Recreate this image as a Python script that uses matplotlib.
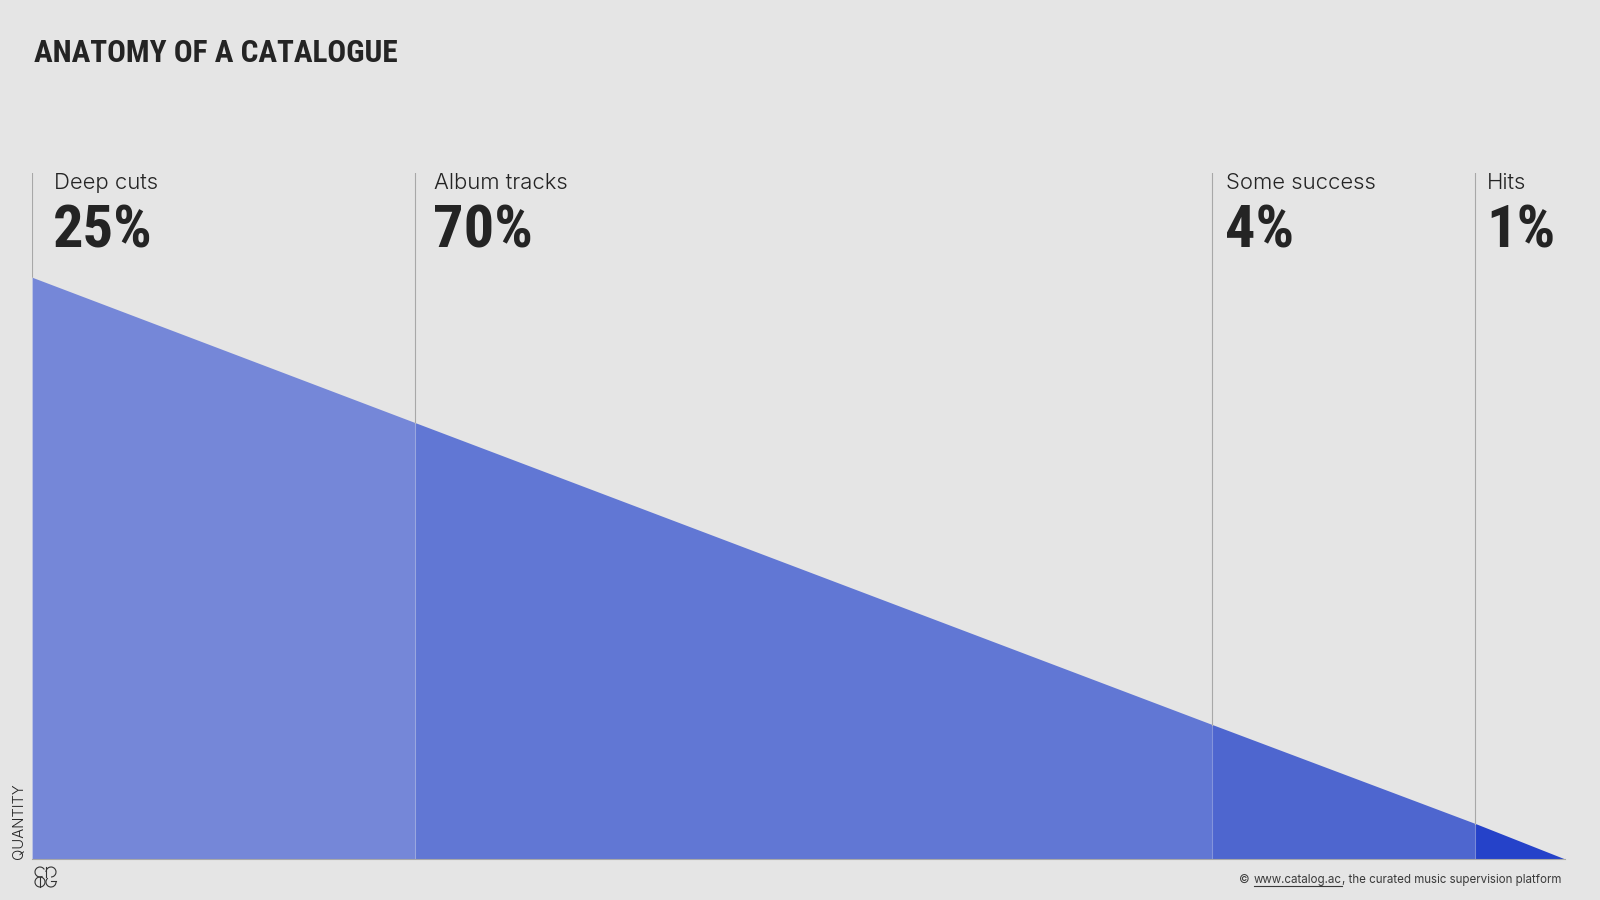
import matplotlib
matplotlib.use("Agg")
import matplotlib.pyplot as plt
from matplotlib.patches import Arc
from matplotlib.lines import Line2D
from matplotlib.transforms import IdentityTransform

# share of the catalogue ordered from least to most streamed, and track quantity
edges = [0, 25.0, 77.0, 94.15, 100]
quantity = [100, 75.0, 23.1, 6.1, 0]
segments = ["Deep cuts", "Album tracks", "Some success", "Hits"]
shares = ["25%", "70%", "4%", "1%"]
colors = ["#7587d8", "#6177d4", "#4e66cf", "#2542c9"]
line_top = 118

head_font = "Roboto Condensed"
BG = "#e5e5e5"
INK = "#242424"

fig = plt.figure(figsize=(16, 9), dpi=100, facecolor=BG)
ax = fig.add_axes([32 / 1600, 41 / 900, 1533 / 1600, 686.5 / 900])
ax.set_xlim(0, 100)
ax.set_ylim(0, line_top)
ax.axis("off")

for i in range(4):
    ax.fill_between(edges[i:i + 2], quantity[i:i + 2], 0, color=colors[i], lw=0)
    ax.plot([edges[i], edges[i]], [quantity[i], line_top], color="#a8a8a8", lw=0.8)
    ax.plot([edges[i], edges[i]], [0, quantity[i]], color="#ffffff", alpha=0.18, lw=0.8)
ax.plot([0, 100], [0, 0], color="#a8a8a8", lw=0.8, clip_on=False)

label_x = [54, 434, 1226, 1487]
for x, name, share in zip(label_x, segments, shares):
    fig.text(x / 1600, 1 - 189 / 900, name, family="Inter", weight=300, fontsize=15.9, color=INK)
    fig.text((x - 1) / 1600, 1 - 247 / 900, share, family=head_font, weight="bold", fontsize=43.5, color=INK)

fig.text(33.5 / 1600, 1 - 62 / 900, "ANATOMY OF A CATALOGUE", family=head_font, weight="bold",
         fontsize=22.5, color=INK)
fig.text(26 / 1600, 1 - 859 / 900, "QUANTITY", family="Inter", weight=300, fontsize=10.7, color=INK,
         rotation=90, ha="right", va="bottom")

# footer, right aligned; the link gets an underline
fs = 8.3
foot = "#3a3a3a"
t3 = fig.text(1561 / 1600, 1 - 883 / 900, ", the curated music supervision platform", family="Inter",
              fontsize=fs, color=foot, ha="right", va="baseline")
r = fig.canvas.get_renderer()
x = t3.get_window_extent(r).x0
t2 = fig.text(x / 1600, 1 - 883 / 900, "www.catalog.ac", family="Inter", fontsize=fs, color=foot,
              ha="right", va="baseline")
b = t2.get_window_extent(r)
fig.add_artist(Line2D([b.x0, b.x1], [900 - 885.5, 900 - 885.5], transform=IdentityTransform(),
                      color=foot, lw=0.8))
fig.text((b.x0 - 4) / 1600, 1 - 883 / 900, "©", family="Inter", fontsize=fs, color=foot,
         ha="right", va="baseline")

# logo
def arc(cx, cy, w, h, a, b):
    fig.add_artist(Arc((cx, 900 - cy), w, h, theta1=a, theta2=b, transform=IdentityTransform(),
                       color="#333333", lw=0.8))

arc(40, 872, 10, 10, 30, 300)
arc(51, 872, 10, 10, -90, 180)
arc(40, 882, 10, 10, 0, 360)
arc(51, 882, 10, 10, 130, 10)
for xs, ys in [([40, 40], [877, 887]), ([46, 46], [867, 877]), ([51, 56], [881, 881])]:
    fig.add_artist(Line2D(xs, [900 - y for y in ys], transform=IdentityTransform(), color="#333333", lw=0.8))

fig.savefig("out.png", dpi=100, facecolor=BG)
